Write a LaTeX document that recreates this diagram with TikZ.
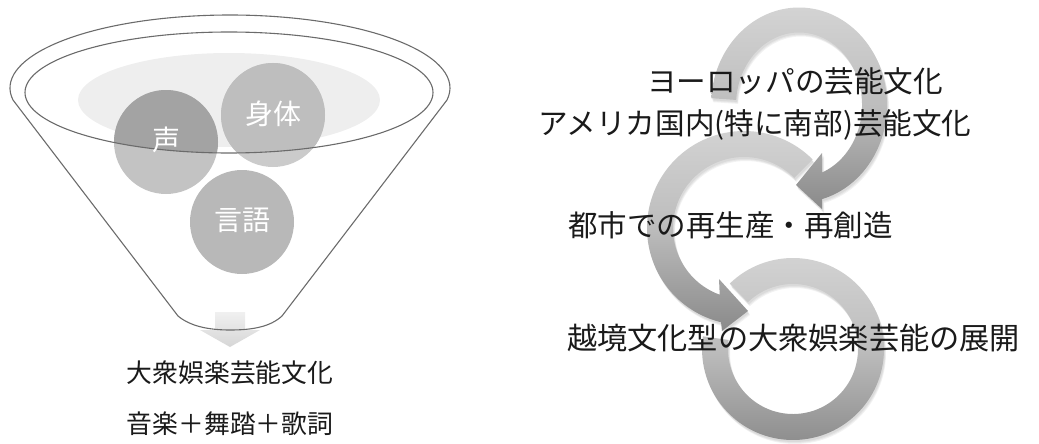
\documentclass[tikz,border=0pt]{standalone}
\usepackage{fontspec}
\newfontfamily\jp{Noto Sans CJK JP}
\definecolor{funline}{HTML}{6B6B6B}
\definecolor{lightell}{HTML}{EEEEEE}
\definecolor{koeLo}{HTML}{C3C3C3}
\definecolor{koeHi}{HTML}{A3A3A3}
\definecolor{shinLo}{HTML}{CBCBCB}
\definecolor{shinHi}{HTML}{BEBEBE}
\definecolor{gengo}{HTML}{B8B8B8}
\definecolor{arrtop}{HTML}{D4D4D4}
\definecolor{arrmid}{HTML}{BDBDBD}
\definecolor{arrbot}{HTML}{8A8A8A}
\definecolor{downtop}{HTML}{F0F0F0}
\definecolor{downbot}{HTML}{D6D6D6}
\definecolor{ink}{HTML}{1A1A1A}
\newcommand\arcThreePath{({793+91*cos(226)},{349+91*sin(226)})
  arc[start angle=226, end angle=548, radius=91]
  -- ({793+65*cos(548)},{349+65*sin(548)})
  arc[start angle=548, end angle=226, radius=65] -- cycle}
\newcommand\arcTwoPath{({744+97*cos(315)},{228+97*sin(315)})
  arc[start angle=315, end angle=103.7, radius=97]
  -- (722,331) -- (748,311) -- (719,279)
  -- ({744+71*cos(110)},{228+71*sin(110)})
  arc[start angle=110, end angle=315, radius=71] -- cycle}
\newcommand\arcOnePath{({799+88*cos(184)},{105+97.5*sin(184)})
  arc[start angle=184, end angle=434.8, x radius=88, y radius=97.5]
  -- (822,209) -- (796,185) -- (822,153) -- (822,172.5)
  arc[start angle=428.6, end angle=184, x radius=63, y radius=72.5] -- cycle}
\begin{document}
\begin{tikzpicture}[x=1pt,y=-1pt,
  fun/.style={draw=funline,line width=1.1pt},
  ball/.style={circle,minimum size=104pt,inner sep=0pt},
  lbl/.style={text=white,font=\jp\fontsize{28}{28}\selectfont,inner sep=0pt},
  txt/.style={text=ink,inner sep=0pt},
  arr/.style={top color=arrtop,bottom color=arrbot,middle color=arrmid,draw=none},
  shad/.style={fill=black,fill opacity=0.05,draw=none},
]
\useasboundingbox (0,0) rectangle (1039,444);

% ---------- funnel ----------
\fill[lightell] (229,100) ellipse[x radius=151, y radius=47];
\fill[koeLo] (166,142) circle[radius=52];
\fill[shinLo] (273,115) circle[radius=52];
\fill[gengo] (242,222) circle[radius=52];
\begin{scope}
  \clip (229,92.5) ellipse[x radius=204, y radius=60.5];
  \fill[koeHi] (166,142) circle[radius=52];
  \fill[shinHi] (273,115) circle[radius=52];
\end{scope}
\shade[top color=downtop,bottom color=downbot]
  (215,312) -- (245,312) -- (245,330) -- (260,330) -- (230,347) -- (200,330) -- (215,330) -- cycle;
\draw[fun] (229,92.5) ellipse[x radius=204, y radius=60.5];
\draw[fun,line join=round] ({230+220*cos(170.5)},{88+73*sin(170.5)})
  arc[start angle=170.5, end angle=369.5, x radius=220, y radius=73]
  -- (282,316) .. controls (270,327) and (252,330) .. (230,330)
  .. controls (208,330) and (190,326) .. (178,316) -- cycle;

\node[ball,lbl] (koe) at (166,140) {声};
\node[ball,lbl] (shintai) at (273,114) {身体};
\node[ball,lbl] (gengo) at (242,220) {言語};

\node[txt,font=\jp\fontsize{25.8}{25.8}\selectfont] (taishu) at (230,372.5) {大衆娯楽芸能文化};
\node[txt,font=\jp\fontsize{25.8}{25.8}\selectfont] (ongaku) at (230,423.5) {音楽＋舞踏＋歌詞};

% ---------- circular arrows (soft shadow, then body) ----------
\foreach \dx/\dy in {1/2, 1.5/3, 2/4} {
  \begin{scope}[shift={(\dx,\dy)}]
    \path[shad] \arcThreePath;
  \end{scope}
}
\path[arr] \arcThreePath;
\foreach \dx/\dy in {1/2, 1.5/3, 2/4} {
  \begin{scope}[shift={(\dx,\dy)}]
    \path[shad] \arcTwoPath;
  \end{scope}
}
\path[arr] \arcTwoPath;
\foreach \dx/\dy in {1/2, 1.5/3, 2/4} {
  \begin{scope}[shift={(\dx,\dy)}]
    \path[shad] \arcOnePath;
  \end{scope}
}
\path[arr] \arcOnePath;

\node[txt,font=\jp\fontsize{29.6}{29.6}\selectfont] (eu) at (795,81) {ヨーロッパの芸能文化};
\node[txt,font=\jp\fontsize{29.6}{29.6}\selectfont] (am) at (755,125) {アメリカ国内(特に南部)芸能文化};
\node[txt,font=\jp\fontsize{29.5}{29.5}\selectfont] (toshi) at (730.5,225) {都市での再生産・再創造};
\node[txt,font=\jp\fontsize{30.2}{30.2}\selectfont] (ekkyo) at (793.5,338) {越境文化型の大衆娯楽芸能の展開};
\end{tikzpicture}
\end{document}
